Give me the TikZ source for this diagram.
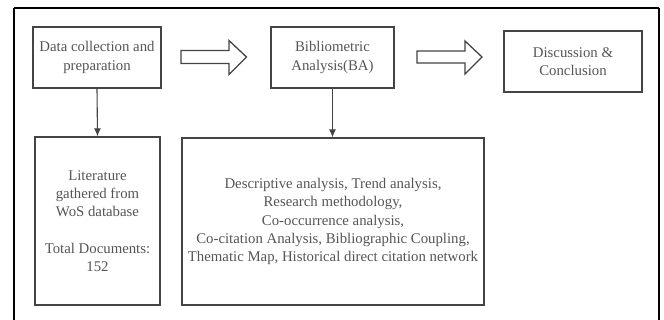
\documentclass[tikz,border=0pt]{standalone}
\usepackage{fontspec}
\setmainfont{Liberation Serif}
\usetikzlibrary{arrows.meta}
\definecolor{txt}{HTML}{555555}
\definecolor{edge}{HTML}{444444}
\begin{document}
\begin{tikzpicture}[x=1pt,y=-1pt,
  box/.style={draw=edge,line width=1.3pt,text=txt,align=center,font=\fontsize{14.8}{18.2}\selectfont,inner sep=0pt},
  hollow/.style={draw=edge,line width=1.3pt,fill=white,line join=miter},
  link/.style={draw=edge,line width=1.1pt,-{Latex[length=8pt,width=7pt]}}]
\useasboundingbox (0,0) rectangle (664,320);
\draw[line width=1.8pt] (14,8) -- (659,8) (14,8) -- (14,322) (659,8) -- (659,322);
\node[box,minimum width=128pt,minimum height=61pt] (dc) at (97,57.5) {Data collection and\\preparation};
\node[box,minimum width=123pt,minimum height=61pt] (ba) at (332.5,57.5) {Bibliometric\\Analysis(BA)};
\node[box,minimum width=138pt,minimum height=61pt] (dis) at (573,61.5) {Discussion \&\\Conclusion};
\node[box,minimum width=125pt,minimum height=168pt] (lit) at (97.5,221) {Literature\\gathered from\\WoS database\\[18pt]Total Documents:\\152};
\node[box,minimum width=302pt,minimum height=167pt] (an) at (333,221.5) {Descriptive analysis, Trend analysis,\\Research methodology,\\Co-occurrence analysis,\\Co-citation Analysis, Bibliographic Coupling,\\Thematic Map, Historical direct citation network};
\draw[hollow] (181,50.5) -- (229,50.5) -- (229,40.5) -- (246.5,57) -- (229,74.5) -- (229,63.5) -- (181,63.5) -- cycle;
\draw[hollow] (417,51) -- (465,51) -- (465,41) -- (482,57) -- (465,74) -- (465,63) -- (417,63) -- cycle;
\draw[link] (dc.south) -- (lit.north);
\draw[link] (ba.south) -- (an.north -| ba.south);
\end{tikzpicture}
\end{document}
